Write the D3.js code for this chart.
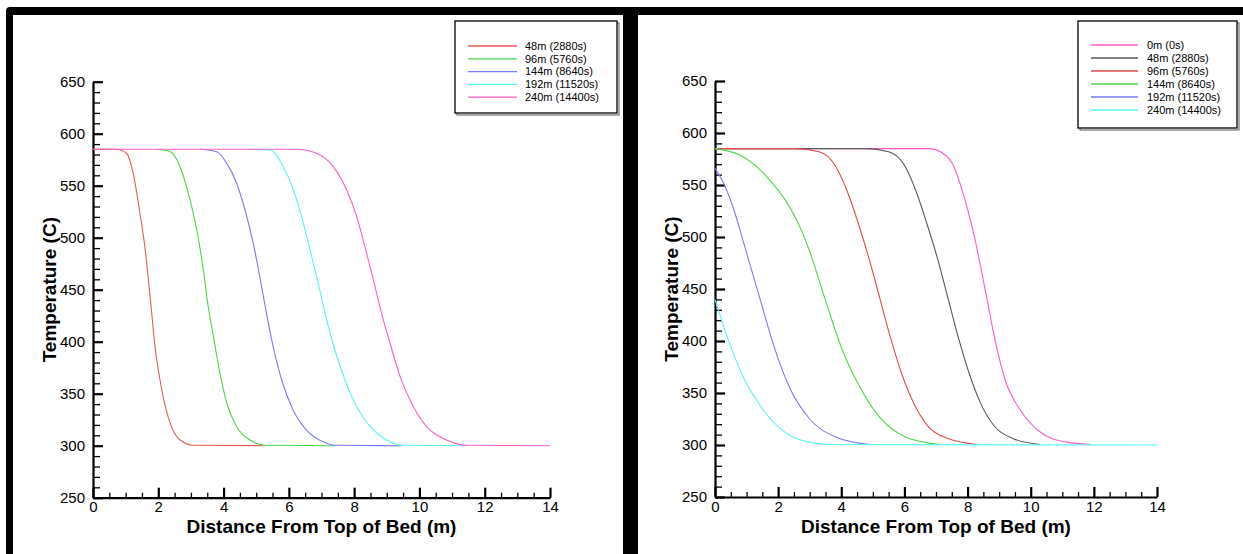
<!DOCTYPE html>
<html><head><meta charset="utf-8">
<script src="https://cdn.jsdelivr.net/npm/d3@7"></script>
<style>
html,body{margin:0;padding:0;background:#fff;}
svg{display:block;}
text{font-family:"Liberation Sans",Arial,sans-serif;}
</style></head>
<body><svg id="c" width="1243" height="554"></svg>
<script>
// ---------- data ----------
const xTicks = [0,2,4,6,8,10,12,14];
const yTicks = [250,300,350,400,450,500,550,600,650];
const xLabel = "Distance From Top of Bed (m)";
const yLabel = "Temperature (C)";

const leftNames = ["48m (2880s)","96m (5760s)","144m (8640s)","192m (11520s)","240m (14400s)"];
const leftColors = ["#e65a5a","#4cd64c","#7a7aff","#55f5f5","#ff5cc4"];
const left48 = [[0,585],[0.73,585],[1.03,581],[1.23,562],[1.44,523],[1.59,491],[1.70,459],[1.80,427],[1.90,395],[2.00,373],[2.15,347],[2.36,322],[2.67,305.5],[3.07,300.5],[5.27,300]];
const left96 = [[1.95,585],[2.36,582.8],[2.67,568],[2.92,542.7],[3.18,507.4],[3.38,469],[3.53,433.6],[3.69,404.8],[3.89,369.6],[4.10,340.8],[4.40,318.3],[4.81,305.5],[5.27,300.5],[7.41,300]];
const left144 = [[3.28,585],[3.79,582.7],[4.10,571.5],[4.40,552.3],[4.66,526.4],[4.91,494.6],[5.11,462.5],[5.31,428],[5.52,395.2],[5.78,363.2],[6.13,334.3],[6.54,315],[7.05,303.8],[7.41,300.5],[9.46,300]];
const left192 = [[4.71,585],[5.42,584.3],[5.83,568.3],[6.14,545.9],[6.39,520.2],[6.65,488.2],[6.90,456],[7.16,420.8],[7.41,392],[7.72,363.2],[8.08,337.5],[8.59,315.1],[9.10,303.8],[9.46,300.5],[11.45,300]];
const left240 = [[0,585],[6.24,585],[6.85,581.2],[7.36,568.3],[7.77,545.9],[8.08,520.2],[8.33,491.3],[8.59,459.4],[8.84,427.3],[9.10,398.5],[9.41,366.4],[9.76,340.8],[10.22,318.3],[10.83,305.5],[11.45,300.5],[14,300]];

const rightNames = ["0m (0s)","48m (2880s)","96m (5760s)","144m (8640s)","192m (11520s)","240m (14400s)"];
const rightColors = ["#ff5cc4","#5a5a5a","#e04a4a","#4cd64c","#7a7aff","#55f5f5"];
const right0 = [[0,585],[6.81,585],[7.45,574],[7.92,535.6],[8.24,497],[8.56,449],[8.87,401],[9.19,362.5],[9.67,333.7],[10.30,312.5],[11.09,303],[11.89,300.5]];
const right48 = [[0,585],[4.75,585],[5.5,582],[6.0,569],[6.38,543],[6.72,512],[7.06,478],[7.39,440],[7.72,402],[8.06,368],[8.4,341],[8.85,318],[9.45,306],[10.3,300.5]];
const right96 = [[0,585],[2.54,585],[3.3,582],[3.8,569],[4.2,543],[4.55,512],[4.89,478],[5.23,440],[5.57,402],[5.92,368],[6.28,341],[6.75,318],[7.4,306],[8.3,300.5]];
const right144 = [[0,585],[0.79,578.8],[1.59,559.6],[2.38,528],[2.7,509],[3.0,486],[3.49,440],[4.0,394],[4.6,355],[5.23,326],[6.02,308],[7.13,300.5]];
const right192 = [[0,566],[0.3,550],[0.6,526],[0.95,490],[1.43,440],[1.9,392],[2.38,354],[3.0,325],[3.8,308],[4.9,300.5]];
const right240 = [[0,440],[0.48,396],[0.95,362],[1.43,338],[2.06,316],[2.69,305],[3.64,300.5],[14,300]];

// ---------- drawing ----------
const svg = d3.select("#c");
svg.append("rect").attr("width",1243).attr("height",554).attr("fill","#fff");

// black frame
svg.append("path").attr("fill","#000")
  .attr("d","M6,554 L6,11 Q6,7 10,7 L1243,7 L1243,15 L13,15 L13,554 Z");
svg.append("rect").attr("x",623).attr("y",7).attr("width",15).attr("height",547).attr("fill","#000");

function panel(cfg){
  const x = d3.scaleLinear().domain([0,14]).range([cfg.x0,cfg.x1]);
  const y = d3.scaleLinear().domain([250,650]).range([cfg.y0,cfg.y1]);
  const g = svg.append("g");

  // minor ticks
  const xm = d3.range(0,14.001,0.5).filter(v=>Math.abs(v/2-Math.round(v/2))>1e-6);
  const ym = d3.range(250,650.001,10).filter(v=>v%50!==0);
  g.append("g").attr("transform",`translate(0,${cfg.y0})`)
    .call(d3.axisBottom(x).tickValues(xm).tickSize(-5).tickFormat(""))
    .call(a=>a.select(".domain").remove())
    .call(a=>a.selectAll("line").attr("stroke","#000").attr("stroke-width",1.3));
  g.append("g").attr("transform",`translate(${cfg.x0},0)`)
    .call(d3.axisLeft(y).tickValues(ym).tickSize(-7).tickFormat(""))
    .call(a=>a.select(".domain").remove())
    .call(a=>a.selectAll("line").attr("stroke","#000").attr("stroke-width",1.3));

  // major axes
  const ax = g.append("g").attr("transform",`translate(0,${cfg.y0})`)
    .call(d3.axisBottom(x).tickValues(xTicks).tickSizeInner(-10).tickSizeOuter(0).tickPadding(4));
  const ay = g.append("g").attr("transform",`translate(${cfg.x0},0)`)
    .call(d3.axisLeft(y).tickValues(yTicks).tickSizeInner(-10).tickSizeOuter(0).tickPadding(8));
  [ax,ay].forEach(a=>{
    a.select(".domain").attr("stroke","#000").attr("stroke-width",2.2);
    a.selectAll(".tick line").attr("stroke","#000").attr("stroke-width",2.2);
    a.selectAll(".tick text").attr("fill","#000").style("font-size","15px")
      .style("font-family","'Liberation Sans',Arial,sans-serif");
  });

  g.append("text").attr("x",(cfg.x0+cfg.x1)/2).attr("y",533)
    .attr("text-anchor","middle").style("font-size","19px").style("font-weight","bold")
    .text(xLabel);
  g.append("text").attr("transform",`translate(${cfg.ylx},${(cfg.y0+cfg.y1)/2}) rotate(-90)`)
    .attr("text-anchor","middle").style("font-size","19px").style("font-weight","bold")
    .text(yLabel);

  const line = d3.line().x(d=>x(d[0])).y(d=>y(d[1])).curve(d3.curveMonotoneX);
  cfg.series.forEach((s,i)=>{
    g.append("path").datum(s).attr("d",line).attr("fill","none")
      .attr("stroke",cfg.colors[i]).attr("stroke-width",1.1);
  });

  // legend
  const L = cfg.leg;
  g.append("rect").attr("x",L.x+2).attr("y",L.y+2).attr("width",L.w).attr("height",L.h)
    .attr("fill","none").attr("stroke","#555").attr("stroke-width",1);
  g.append("rect").attr("x",L.x).attr("y",L.y).attr("width",L.w).attr("height",L.h)
    .attr("fill","#fff").attr("stroke","#000").attr("stroke-width",1.3);
  cfg.names.forEach((n,i)=>{
    const yy = L.row0 + i*L.dy;
    g.append("line").attr("x1",L.lx0).attr("x2",L.lx1).attr("y1",yy).attr("y2",yy)
      .attr("stroke",cfg.colors[i]).attr("stroke-width",1.3);
    g.append("text").attr("x",L.tx).attr("y",yy).attr("dy","0.35em")
      .style("font-size","11px").attr("fill","#000").text(n);
  });
}

panel({x0:93,x1:550,y0:497.7,y1:81.7,ylx:56,
  series:[left48,left96,left144,left192,left240],colors:leftColors,names:leftNames,
  leg:{x:455,y:21,w:162,h:92,row0:46,dy:12.8,lx0:468,lx1:517,tx:525}});
panel({x0:715,x1:1157,y0:497,y1:81,ylx:678,
  series:[right0,right48,right96,right144,right192,right240],colors:rightColors,names:rightNames,
  leg:{x:1078,y:21,w:159,h:107,row0:45,dy:13,lx0:1091,lx1:1138,tx:1147}});
</script></body></html>
